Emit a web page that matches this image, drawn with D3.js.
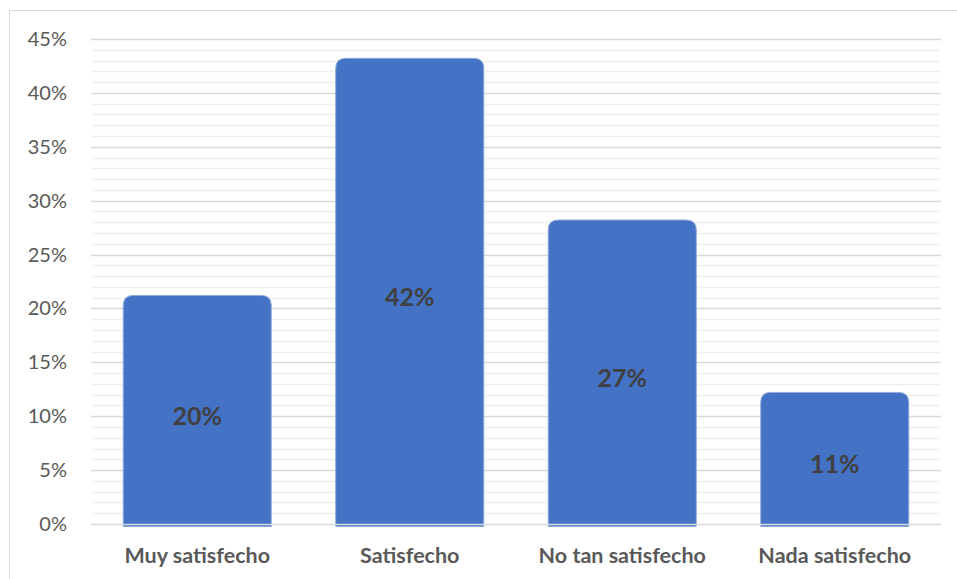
<!DOCTYPE html>
<html>
<head>
<meta charset="utf-8">
<script src="https://cdn.jsdelivr.net/npm/d3@7"></script>
<style>
  html, body { margin: 0; padding: 0; background: #fff; }
  svg { display: block; }
  text { font-family: Lato, "Open Sans", sans-serif; }
</style>
</head>
<body>
<svg id="chart" width="957" height="579"></svg>
<script>
// Satisfaction survey results (percent of respondents)
const categories = ["Muy satisfecho", "Satisfecho", "No tan satisfecho", "Nada satisfecho"];
const values = [20, 42, 27, 11];
const yTicks = [0, 5, 10, 15, 20, 25, 30, 35, 40, 45];
const yMinorTicks = d3.range(0, 46, 1);

const svg = d3.select("#chart");
const W = 957, H = 579;
const plot = { left: 91, right: 941, top: 39, bottom: 524 };

// outer chart frame
svg.append("rect")
  .attr("x", 9.5).attr("y", 10.5)
  .attr("width", W + 20).attr("height", H + 20)
  .attr("fill", "none").attr("stroke", "#d9d9d9").attr("stroke-width", 1);

const x = d3.scaleBand()
  .domain(categories)
  .range([plot.left, plot.right])
  .paddingInner(0.3035)
  .paddingOuter(0.3035 / 2);

const y = d3.scaleLinear()
  .domain([0, 45])
  .range([plot.bottom, plot.top]);

// minor gridlines (every 1%)
svg.append("g").selectAll("line")
  .data(yMinorTicks.filter(d => d % 5 !== 0))
  .join("line")
  .attr("x1", plot.left).attr("x2", plot.right)
  .attr("y1", d => Math.round(y(d)) + 0.5).attr("y2", d => Math.round(y(d)) + 0.5)
  .attr("stroke", "#f0f0f0").attr("stroke-width", 1.5);

// major gridlines (every 5%)
svg.append("g").selectAll("line")
  .data(yTicks.filter(d => d !== 0))
  .join("line")
  .attr("x1", plot.left).attr("x2", plot.right)
  .attr("y1", d => Math.round(y(d)) + 0.5).attr("y2", d => Math.round(y(d)) + 0.5)
  .attr("stroke", "#d9d9d9").attr("stroke-width", 1.5);

// bars: rounded top, slight bevel past the baseline
const capLift = 13, baseDrop = 2.5, r = 10;
function barPath(d, i) {
  const x0 = x(categories[i]), x1 = x0 + x.bandwidth();
  const top = y(d) - capLift, bot = y(0) + baseDrop;
  return `M${x0},${bot} L${x0},${top + r} Q${x0},${top} ${x0 + r},${top} ` +
         `L${x1 - r},${top} Q${x1},${top} ${x1},${top + r} L${x1},${bot} Z`;
}
svg.append("g").selectAll("path")
  .data(values)
  .join("path")
  .attr("d", barPath)
  .attr("fill", "#4472c4")
  .attr("stroke", "#8eaadb")
  .attr("stroke-width", 1);

// baseline drawn over the bars
svg.append("line")
  .attr("x1", plot.left).attr("x2", plot.right)
  .attr("y1", Math.round(y(0)) + 0.5).attr("y2", Math.round(y(0)) + 0.5)
  .attr("stroke", "#d9d9d9").attr("stroke-width", 1.5);

// y axis labels
svg.append("g").selectAll("text")
  .data(yTicks)
  .join("text")
  .attr("x", 67).attr("y", d => y(d))
  .attr("dy", "0.35em")
  .attr("text-anchor", "end")
  .attr("font-size", 20)
  .attr("fill", "#595959")
  .text(d => d + "%");

// category labels
svg.append("g").selectAll("text")
  .data(categories)
  .join("text")
  .attr("x", d => x(d) + x.bandwidth() / 2)
  .attr("y", 555)
  .attr("dy", "0.35em")
  .attr("text-anchor", "middle")
  .attr("font-size", 21.5)
  .attr("font-weight", "bold")
  .attr("fill", "#595959")
  .text(d => d);

// value labels centred in each bar
svg.append("g").selectAll("text")
  .data(values)
  .join("text")
  .attr("x", (d, i) => x(categories[i]) + x.bandwidth() / 2)
  .attr("y", d => (y(d) + y(0)) / 2)
  .attr("dy", "0.35em")
  .attr("text-anchor", "middle")
  .attr("font-size", 25)
  .attr("font-weight", "bold")
  .attr("fill", "#404040")
  .text(d => d + "%");
</script>
</body>
</html>
